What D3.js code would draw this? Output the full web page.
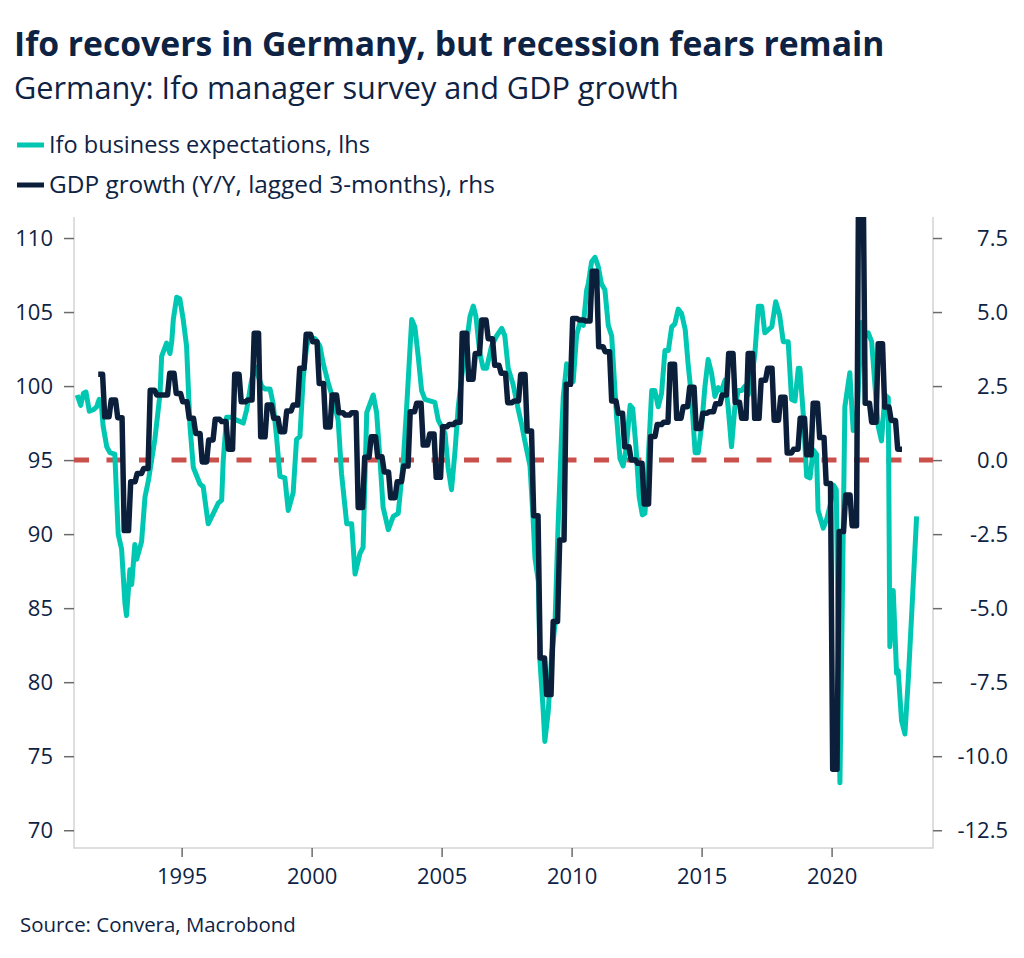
<!DOCTYPE html>
<html><head><meta charset="utf-8">
<script src="https://cdn.jsdelivr.net/npm/d3@7"></script>
<style>
html,body{margin:0;padding:0;background:#fff;}
svg{display:block;font-family:"Open Sans","Noto Sans",sans-serif;}
</style></head><body>
<svg id="chart" width="1024" height="958"></svg>
<script>
// ---------- text ----------
const titleText = "Ifo recovers in Germany, but recession fears remain";
const subtitleText = "Germany: Ifo manager survey and GDP growth";
const seriesNames = ["Ifo business expectations, lhs", "GDP growth (Y/Y, lagged 3-months), rhs"];
const sourceText = "Source: Convera, Macrobond";

// ---------- ticks ----------
const leftTicks = [70, 75, 80, 85, 90, 95, 100, 105, 110];
const rightTicks = [-12.5, -10, -7.5, -5, -2.5, 0, 2.5, 5, 7.5];
const yearTicks = [1995, 2000, 2005, 2010, 2015, 2020];

// ---------- Ifo business expectations (decimal year / index) ----------
const ifoDates = [
 1990.98,1991.12,1991.22,1991.32,1991.45,1991.6,1991.73,1991.83,1991.92,1991.98,
 1992.12,1992.24,1992.43,1992.56,1992.69,1992.82,1992.88,1993.01,1993.08,1993.2,
 1993.27,1993.46,1993.59,1993.72,1993.97,1994.17,1994.23,1994.42,1994.55,1994.62,
 1994.68,1994.81,1994.93,1995.06,1995.19,1995.32,1995.45,1995.7,1995.83,1996.02,
 1996.22,1996.41,1996.54,1996.6,1996.73,1996.92,1997.12,1997.37,1997.5,1997.69,
 1997.82,1998.08,1998.2,1998.4,1998.52,1998.65,1998.78,1998.97,1999.1,1999.29,
 1999.42,1999.55,1999.68,1999.81,1999.93,2000.13,2000.32,2000.45,2000.64,2000.83,
 2001.02,2001.15,2001.35,2001.54,2001.67,2001.86,2001.98,2002.12,2002.37,2002.5,
 2002.63,2002.75,2002.95,2003.14,2003.33,2003.52,2003.65,2003.78,2003.85,2003.97,
 2004.1,2004.23,2004.36,2004.74,2004.87,2005.13,2005.25,2005.38,2005.51,2005.64,
 2005.77,2005.96,2006.09,2006.22,2006.32,2006.47,2006.6,2006.73,2006.92,2007.12,
 2007.31,2007.43,2007.56,2007.75,2007.95,2008.08,2008.2,2008.4,2008.52,2008.59,
 2008.72,2008.78,2008.91,2008.97,2009.1,2009.23,2009.36,2009.48,2009.62,2009.68,
 2009.81,2009.93,2010.06,2010.19,2010.32,2010.45,2010.58,2010.64,2010.77,2010.9,
 2011.02,2011.15,2011.28,2011.41,2011.54,2011.73,2011.86,2011.98,2012.1,2012.25,
 2012.35,2012.47,2012.6,2012.72,2012.82,2012.92,2013.08,2013.2,2013.33,2013.46,
 2013.59,2013.72,2013.85,2013.97,2014.1,2014.23,2014.37,2014.48,2014.62,2014.75,
 2014.87,2015.0,2015.13,2015.25,2015.38,2015.51,2015.64,2015.77,2015.9,2016.02,
 2016.15,2016.28,2016.41,2016.54,2016.67,2016.79,2016.92,2017.05,2017.18,2017.31,
 2017.43,2017.56,2017.7,2017.85,2018.0,2018.14,2018.33,2018.46,2018.59,2018.72,
 2018.78,2018.91,2019.04,2019.17,2019.29,2019.42,2019.48,2019.68,2019.81,2019.95,
 2020.08,2020.18,2020.32,2020.51,2020.7,2020.83,2020.96,2021.15,2021.28,2021.41,
 2021.54,2021.67,2021.79,2021.92,2022.05,2022.18,2022.24,2022.37,2022.5,2022.56,
 2022.69,2022.82,2022.95,2023.08,2023.27
];
const ifoValues = [
 99.4,98.7,99.5,99.6,98.3,98.4,98.6,99.1,98.6,97.3,
 95.9,95.5,95.4,90.0,89.0,85.3,84.5,87.6,86.6,89.3,
 88.3,89.5,92.5,93.6,96.4,99.5,102.0,102.9,102.2,103.0,
 104.5,106.0,105.9,104.5,102.7,97.3,94.5,93.4,93.2,90.7,
 91.4,92.1,92.3,95.0,97.9,97.9,97.7,97.5,98.4,100.4,
 101.3,100.0,99.8,99.8,98.8,96.6,93.9,93.8,91.6,92.8,
 96.4,96.6,100.6,102.7,103.3,103.2,102.7,101.5,100.2,99.1,
 97.7,94.1,90.7,90.7,87.3,88.7,89.1,98.2,99.4,98.2,
 95.0,91.8,90.3,91.2,91.4,94.8,98.4,102.4,104.5,104.0,
 102.0,99.7,99.1,98.9,97.7,96.8,94.5,93.0,95.5,98.6,
 100.6,102.9,104.7,105.4,104.7,102.2,101.2,101.2,102.7,103.4,
 103.9,103.4,101.2,100.1,98.4,97.4,96.3,94.6,91.0,88.4,
 86.8,81.5,78.0,76.0,78.0,81.8,83.9,90.6,97.0,99.3,
 101.5,101.2,100.3,103.4,104.3,104.1,106.5,106.9,108.4,108.7,
 108.1,106.9,106.5,104.1,103.4,97.9,95.1,94.6,95.8,98.7,
 98.5,96.0,92.5,91.3,91.4,94.1,99.7,99.7,98.6,99.5,
 102.4,102.4,104.0,104.2,105.2,104.9,103.8,101.5,99.1,95.5,
 95.5,97.3,100.0,101.8,100.9,99.3,99.9,99.7,100.4,98.6,
 95.9,98.6,99.7,99.7,100.0,99.4,100.4,102.2,105.4,105.4,
 103.6,103.8,104.0,105.7,104.8,103.0,103.0,99.1,99.0,101.2,
 101.2,98.1,93.9,93.8,95.7,95.4,91.6,90.4,91.0,92.0,
 93.3,93.0,73.2,98.6,100.9,97.0,97.2,104.3,103.3,103.6,
 103.0,100.0,97.3,96.3,99.4,99.2,82.4,86.2,80.6,80.8,
 77.4,76.5,80.2,84.6,91.2
];

// ---------- GDP growth Y/Y, quarterly, lagged (first plotted quarter starts 1991 Q4) ----------
const gdpFirstQuarter = 1991.75;
const gdpValues = [
 2.9,
 1.46,2.03,1.43,-2.38,
 -0.73,-0.45,-0.28,2.36,
 2.2,2.2,2.93,2.25,
 1.97,1.41,0.9,-0.06,
 0.68,1.38,1.3,0.37,
 2.9,1.97,2.03,4.28,
 0.79,1.86,1.41,0.96,
 1.66,1.86,3.1,4.25,
 4.0,2.59,1.12,2.2,
 1.6,1.52,1.6,-1.6,
 0.1,0.79,0.11,-0.4,
 -1.27,-0.73,-0.2,1.63,
 1.92,0.51,0.88,-0.58,
 1.13,1.2,1.28,4.28,
 2.73,3.6,4.73,4.1,
 3.2,2.93,1.94,2.0,
 2.89,0.98,-1.88,-6.68,
 -7.92,-5.45,-2.7,2.56,
 4.78,4.73,4.7,6.38,
 3.83,3.66,2.0,1.58,
 0.45,0.0,-0.11,-1.48,
 0.8,1.2,1.28,3.24,
 1.41,1.8,2.46,1.07,
 1.58,1.63,1.9,2.2,
 3.6,1.95,1.41,3.6,
 1.41,2.7,3.1,1.35,
 2.12,0.24,0.37,1.41,
 0.18,1.92,0.76,-0.79,
 -10.44,-2.41,-1.18,-2.22,
 10.0,1.92,1.28,3.93,
 1.79,1.34,0.37
];

// ---------- colours ----------
const colIfo = "#00c7b2";
const colGdp = "#0b1f3b";
const colText = "#0e2344";
const colZero = "#c9504b";

// ---------- layout ----------
const plot = {left: 74, right: 933, top: 217, bottom: 848};

const svg = d3.select("#chart");

const x = d3.scaleLinear().domain([1990.86, 2023.9]).range([plot.left, plot.right]);
const yL = d3.scaleLinear().domain([68.8, 111.42]).range([plot.bottom, plot.top]);
const yR = d3.scaleLinear().domain([-13.1, 8.21]).range([plot.bottom, plot.top]);

// fit text to a target width
function fit(sel, target) {
  const n = sel.node();
  const w = n.getComputedTextLength();
  const fs = parseFloat(sel.attr("font-size"));
  if (w > 0) sel.attr("font-size", (fs * target / w).toFixed(2));
}

// ---------- titles ----------
const t1 = svg.append("text").attr("x", 14).attr("y", 56).attr("font-size", 30)
  .attr("font-weight", 700).attr("fill", colText).text(titleText);
fit(t1, 871);
const t2 = svg.append("text").attr("x", 14).attr("y", 99).attr("font-size", 26)
  .attr("fill", colText).text(subtitleText);
fit(t2, 665);

// ---------- legend ----------
const legendColors = [colIfo, colGdp];
const legendTargets = [321, 446];
seriesNames.forEach((name, i) => {
  const cy = 145 + i * 40;
  svg.append("line").attr("x1", 17).attr("x2", 44).attr("y1", cy).attr("y2", cy)
    .attr("stroke", legendColors[i]).attr("stroke-width", 5);
  const t = svg.append("text").attr("x", 49).attr("y", cy + 8).attr("font-size", 21)
    .attr("fill", colText).text(name);
  fit(t, legendTargets[i]);
});

// ---------- frame ----------
const frame = svg.append("g").attr("stroke", "#d3d3d3").attr("stroke-width", 1.5).attr("fill", "none");
frame.append("path").attr("d", `M${plot.left},${plot.top}V${plot.bottom}H${plot.right}V${plot.top}`);

// ---------- axes ----------
const tickFont = 22;
const axL = svg.append("g").attr("transform", `translate(${plot.left},0)`)
  .call(d3.axisLeft(yL).tickValues(leftTicks).tickSize(10).tickPadding(10).tickFormat(d3.format("d")));
const axR = svg.append("g").attr("transform", `translate(${plot.right},0)`)
  .call(d3.axisRight(yR).tickValues(rightTicks).tickSize(9).tickPadding(10).tickFormat(d => d.toFixed(1)));
const axB = svg.append("g").attr("transform", `translate(0,${plot.bottom})`)
  .call(d3.axisBottom(x).tickValues(yearTicks).tickSize(9).tickPadding(10).tickFormat(d3.format("d")));

[axL, axR, axB].forEach(g => {
  g.select(".domain").remove();
  g.selectAll(".tick line").attr("stroke", "#6b6b6b").attr("stroke-width", 1.5);
  g.selectAll(".tick text").attr("fill", colText).attr("font-size", tickFont)
    .attr("font-family", '"Open Sans","Noto Sans",sans-serif');
});
axR.selectAll(".tick text").attr("text-anchor", "end").attr("x", 75);
axL.selectAll(".tick text").attr("x", -21);
axB.selectAll(".tick text").attr("dy", "0.71em").attr("y", 20);

// ---------- clip ----------
svg.append("clipPath").attr("id", "plotclip").append("rect")
  .attr("x", plot.left).attr("y", plot.top).attr("width", plot.right - plot.left).attr("height", plot.bottom - plot.top);
const g = svg.append("g").attr("clip-path", "url(#plotclip)");

// zero line (rhs 0 = lhs 95)
g.append("line").attr("x1", plot.left).attr("x2", plot.right)
  .attr("y1", yR(0)).attr("y2", yR(0))
  .attr("stroke", colZero).attr("stroke-width", 5).attr("stroke-dasharray", "15,17.5");

// Ifo line
const ifoData = ifoDates.map((d, i) => ({t: d, v: ifoValues[i]}));
g.append("path").datum(ifoData)
  .attr("fill", "none").attr("stroke", colIfo).attr("stroke-width", 5)
  .attr("stroke-linejoin", "round")
  .attr("d", d3.line().x(d => x(d.t)).y(d => yL(d.v)));

// GDP line: each quarterly value held over its three months
const gdpData = [];
gdpValues.forEach((v, i) => {
  const q = gdpFirstQuarter + i * 0.25;
  for (let k = 0; k < 3; k++) gdpData.push({t: q + k / 12 + 1 / 24, v});
});
g.append("path").datum(gdpData)
  .attr("fill", "none").attr("stroke", colGdp).attr("stroke-width", 5.5)
  .attr("stroke-linejoin", "round")
  .attr("d", d3.line().x(d => x(d.t)).y(d => yR(d.v)));

// ---------- source ----------
const src = svg.append("text").attr("x", 20).attr("y", 932).attr("font-size", 19)
  .attr("fill", colText).text(sourceText);
fit(src, 276);
</script>
</body></html>
